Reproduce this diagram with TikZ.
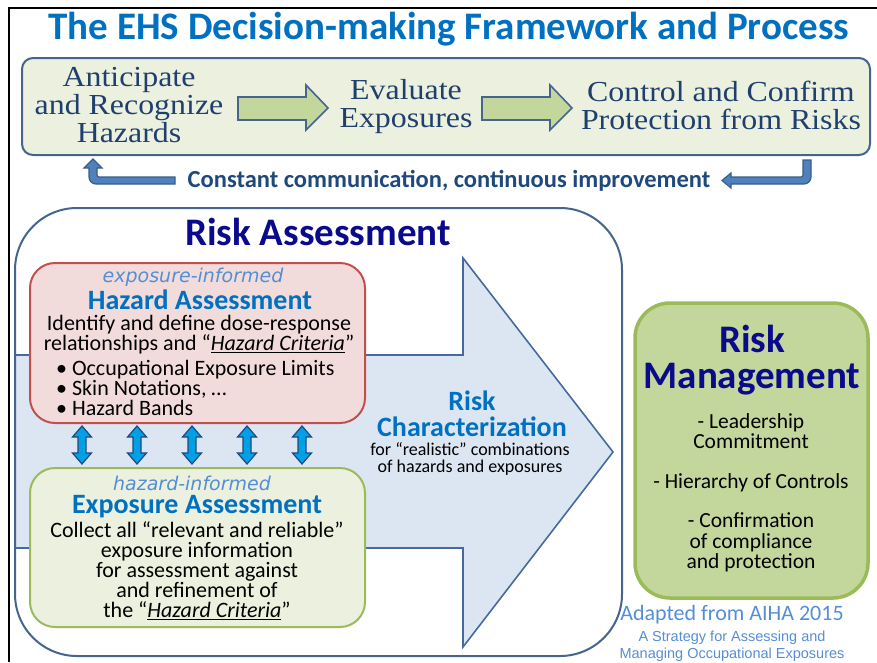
\documentclass[tikz,border=0pt]{standalone}
\usepackage{fontspec}
\setmainfont{Carlito}
\newfontfamily\headserif[FakeStretch=1.1]{Liberation Serif}
\newfontfamily\tagfont{DejaVu Sans}
\newfontfamily\arialfont{Liberation Sans}
\usetikzlibrary{calc}

\definecolor{titleblue}{RGB}{0,112,192}
\definecolor{serifblue}{RGB}{31,64,110}
\definecolor{framegray}{RGB}{70,100,140}
\definecolor{palegreen}{RGB}{235,241,222}
\definecolor{leafgreen}{RGB}{195,214,155}
\definecolor{olivegreen}{RGB}{155,187,89}
\definecolor{steelblue}{RGB}{79,129,189}
\definecolor{deepsteel}{RGB}{56,93,138}
\definecolor{navytext}{RGB}{31,73,125}
\definecolor{inkblue}{RGB}{10,10,140}
\definecolor{paleblue}{RGB}{220,230,242}
\definecolor{arrowedge}{RGB}{70,105,160}
\definecolor{rosefill}{RGB}{242,220,219}
\definecolor{roseedge}{RGB}{192,80,77}
\definecolor{tagblue}{RGB}{85,142,213}
\definecolor{skyblue}{RGB}{0,160,230}

\newcommand{\fsz}[2]{\fontsize{#1}{#2}\selectfont}

\tikzset{
  txt/.style={inner sep=0pt, align=center},
  stepserif/.style={txt, font=\headserif\fsz{29}{28}, text=serifblue},
  topbox/.style={draw=framegray, line width=2pt, fill=palegreen, rounded corners=11pt},
  greenarrow/.style={draw=framegray, line width=1.6pt, fill=leafgreen},
  commarrow/.style={draw=deepsteel, line width=1.2pt, fill=steelblue},
  bigarrow/.style={draw=arrowedge, line width=1.6pt, fill=paleblue},
  hazbox/.style={draw=roseedge, line width=2pt, fill=rosefill, rounded corners=25pt},
  expbox/.style={draw=olivegreen, line width=2pt, fill=palegreen, rounded corners=25pt},
  rmbox/.style={draw=olivegreen, line width=3.5pt, fill=leafgreen, rounded corners=35pt},
  linkarrow/.style={draw=navytext, line width=1.2pt, fill=skyblue},
  tagtext/.style={txt, font=\tagfont\itshape\fsz{19}{19}, text=tagblue},
  subhead/.style={txt, font=\bfseries\fsz{28}{26}, text=titleblue},
  bodytext/.style={txt, font=\fsz{22}{20}, text=black},
  bighead/.style={txt, font=\bfseries\fsz{39}{36.5}, text=inkblue},
}

\begin{document}
\begin{tikzpicture}[x=1pt,y=-1pt]
\useasboundingbox (0,0) rectangle (877,662);
% frame
\draw[line width=2pt] (9,662) -- (9,8) -- (877,8);

\node[txt, font=\bfseries\fsz{39}{39}, text=titleblue] (title) at (449,29)
  {The EHS Decision-making Framework and Process};

% process box
\draw[topbox] (22,58) rectangle (870,155);
\foreach \xa in {238,482}
  \draw[greenarrow] (\xa,97) -- ++(68,0) -- ++(0,-12) -- ++(22,23)
    -- ++(-22,22) -- ++(0,-10) -- ++(-68,0) -- cycle;
\node[stepserif] (anticipate) at (129,105) {Anticipate\\and Recognize\\Hazards};
\node[stepserif] (evaluate) at (406,107) {Evaluate\\Exposures};
\node[stepserif] (control) at (721,105) {Control and Confirm\\Protection from Risks};

% feedback loop
\draw[commarrow] (175,177) -- (175,184) [rounded corners=7pt] -- (89,184)
  [sharp corners] -- (89,168) -- (84,168) -- (93,159) -- (102,168) -- (97,168)
  [rounded corners=2pt] -- (97,177) [sharp corners] -- cycle;
\draw[commarrow] (803,160) -- (811,160) [rounded corners=7pt] -- (811,184)
  [sharp corners] -- (731,184) -- (731,188) -- (722,180.5) -- (731,173) -- (731,177)
  [rounded corners=2pt] -- (803,177) [sharp corners] -- cycle;
\node[txt, font=\bfseries\fsz{24.5}{24.5}, text=navytext] (comm) at (449,181)
  {Constant communication, continuous improvement};

% risk assessment
\draw[bigarrow] (15,355) -- (463,355) -- (463,258) -- (613,452) -- (463,647)
  -- (463,548) -- (15,548) -- cycle;
\draw[framegray, line width=2pt, rounded corners=62pt] (15,208) rectangle (622,656);
\node[bighead] (ra) at (318,232) {Risk Assessment};

\draw[hazbox] (30,263) rectangle (365,423);
\node[tagtext] (haztag) at (193,277) {exposure-informed};
\node[subhead] (hazhead) at (200,300) {Hazard Assessment};
\node[bodytext] (hazbody) at (199,335)
  {Identify and define dose-response\\relationships and “\underline{\textit{Hazard Criteria}}”};
\node[bodytext, align=left, anchor=west] (hazlist) at (56,388)
  {• Occupational Exposure Limits\\• Skin Notations, …\\• Hazard Bands};

\foreach \cx in {82,137,192,247,302}
  \draw[linkarrow] (\cx,426) -- ++(9.5,11) -- ++(-5.5,0) -- ++(0,16) -- ++(5.5,0)
    -- ++(-9.5,11) -- ++(-9.5,-11) -- ++(5.5,0) -- ++(0,-16) -- ++(-5.5,0) -- cycle;

\draw[expbox] (30,468) rectangle (365,627);
\node[tagtext] (exptag) at (192,483) {hazard-informed};
\node[subhead] (exphead) at (197,507) {Exposure Assessment};
\node[bodytext] (expbody) at (197,571)
  {Collect all “relevant and reliable”\\exposure information\\for assessment against\\and refinement of\\the “\underline{\textit{Hazard Criteria}}”};

\node[subhead] (rc) at (472,414) {Risk\\Characterization};
\node[txt, font=\fsz{18}{17}] (rcbody) at (470,459)
  {for “realistic” combinations\\of hazards and exposures};

% risk management
\draw[rmbox] (635,303) rectangle (868,598);
\node[bighead] (rm) at (752,360) {Risk\\Management};
\node[txt, font=\fsz{21.5}{20.5}] (rmbody) at (751,493)
  {- Leadership\\Commitment\\[19pt]- Hierarchy of Controls\\[19pt]- Confirmation\\of compliance\\and protection};

\node[txt, font=\fsz{22}{22}, text=tagblue] (src) at (732,615) {Adapted from AIHA 2015};
\node[txt, font=\arialfont\fsz{14.5}{17}, text=tagblue] (srcbook) at (732,646)
  {A Strategy for Assessing and\\Managing Occupational Exposures};
\end{tikzpicture}
\end{document}
